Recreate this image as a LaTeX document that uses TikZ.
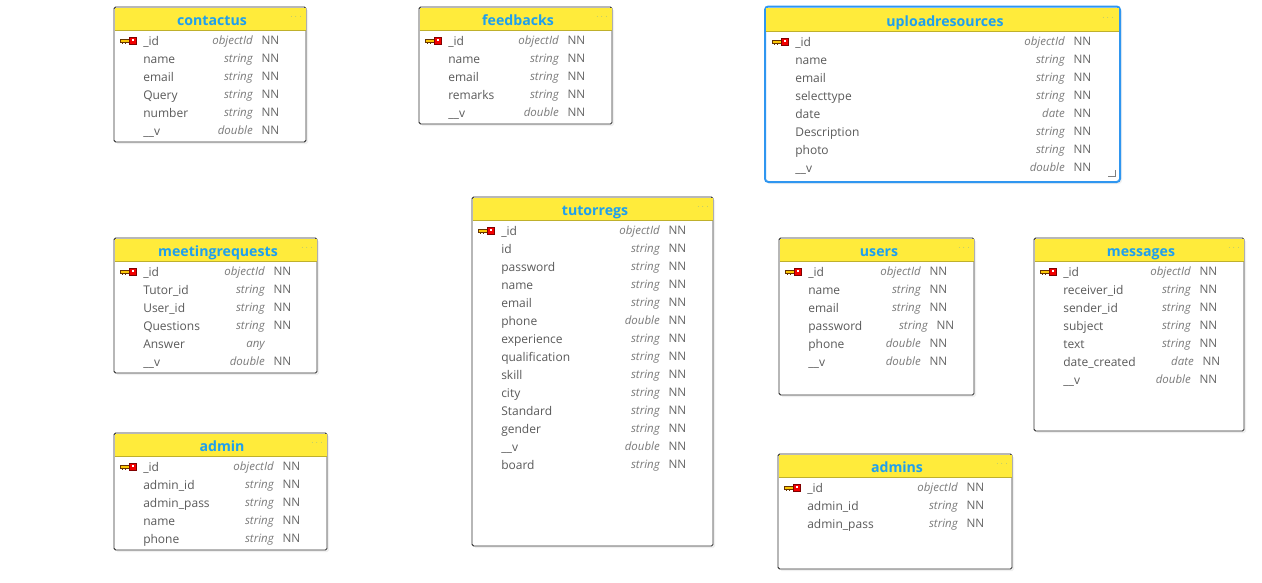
\documentclass[tikz,border=0pt]{standalone}
\usepackage{fontspec}
\setmainfont{Open Sans}
\usetikzlibrary{shadows}
\definecolor{headyellow}{HTML}{FFEB3B}
\definecolor{titleblue}{HTML}{1E9FEF}
\definecolor{fieldgray}{HTML}{5A5A5A}
\definecolor{typegray}{HTML}{7A7A7A}
\definecolor{nngray}{HTML}{666666}
\definecolor{boxgray}{HTML}{333333}
\definecolor{selectblue}{HTML}{2F96F0}
\tikzset{
  tablebox/.style={draw=boxgray,line width=0.7pt,fill=white,rounded corners=1.2pt,
    drop shadow={shadow xshift=1.5pt,shadow yshift=-1.5pt,opacity=0.12}},
  selectbox/.style={draw=selectblue,line width=1.5pt,fill=white,rounded corners=2.5pt,
    drop shadow={shadow xshift=1.5pt,shadow yshift=-1.5pt,opacity=0.12}},
  headbar/.style={fill=headyellow},
  headline/.style={draw=black!25!headyellow,line width=0.6pt},
  tabletitle/.style={inner sep=0pt,xshift=0.75pt,yshift=-0.75pt,text=titleblue,font=\fontsize{10.6}{12}\selectfont\bfseries,text height=8pt,text depth=2pt},
  dotsmark/.style={inner sep=0pt,yshift=-1pt,text=titleblue!60!gray,font=\fontsize{5.5}{7}\selectfont},
  fieldname/.style={anchor=west,inner sep=0pt,yshift=-0.75pt,text=fieldgray,font=\fontsize{9}{11}\selectfont,text height=7pt,text depth=2pt},
  fieldtype/.style={anchor=east,inner sep=0pt,text=typegray,font=\fontsize{8.6}{11}\selectfont\itshape,text height=7pt,text depth=2pt},
  fieldnn/.style={anchor=west,inner sep=0pt,xshift=-0.5pt,text=nngray,font=\fontsize{8.8}{11}\selectfont,text height=7pt,text depth=2pt},
  keyicon/.pic={
    \fill[yellow!60!orange,draw=black!60!orange,line width=0.4pt] (-11,-1.7) rectangle (-2,1);
    \fill[black!60!orange] (-9,1) rectangle (-8,3.2);
    \fill[black!60!orange] (-6.5,1) rectangle (-5.5,3.2);
    \fill[red!95!black,draw=black!50!red,line width=0.4pt] (-2,-3.7) rectangle (5,3.7);
    \fill[white] (0.5,-2.2) rectangle (2.5,-0.2);
  }
}
\begin{document}
\begin{tikzpicture}[x=0.75pt,y=-0.75pt]
  \useasboundingbox (0,0) rectangle (1262,582);
  %contactus
  \draw[tablebox] (114,7) rectangle (306,142);
  \fill[headbar] (114.5,7.5) rectangle (305.5,30);
  \draw[headline] (114.5,30) -- (305.5,30);
  \node[tabletitle] (contactus) at (211,20) {contactus};
  \node[dotsmark] (contactusdots) at (296,16) {$\cdots$};
  \pic at (131,41) {keyicon};
  \node[fieldname] (c1) at (143,41) {\_id}; \node[fieldtype] (c1t) at (253,41) {objectId}; \node[fieldnn] (c1n) at (262,41) {NN};
  \node[fieldname] (c2) at (143,59) {name}; \node[fieldtype] (c2t) at (253,59) {string}; \node[fieldnn] (c2n) at (262,59) {NN};
  \node[fieldname] (c3) at (143,77) {email}; \node[fieldtype] (c3t) at (253,77) {string}; \node[fieldnn] (c3n) at (262,77) {NN};
  \node[fieldname] (c4) at (143,95) {Query}; \node[fieldtype] (c4t) at (253,95) {string}; \node[fieldnn] (c4n) at (262,95) {NN};
  \node[fieldname] (c5) at (143,113) {number}; \node[fieldtype] (c5t) at (253,113) {string}; \node[fieldnn] (c5n) at (262,113) {NN};
  \node[fieldname] (c6) at (143,131) {\_\_v}; \node[fieldtype] (c6t) at (253,131) {double}; \node[fieldnn] (c6n) at (262,131) {NN};

  %feedbacks
  \draw[tablebox] (419,7) rectangle (612,124);
  \fill[headbar] (419.5,7.5) rectangle (611.5,30);
  \draw[headline] (419.5,30) -- (611.5,30);
  \node[tabletitle] (feedbacks) at (517,20) {feedbacks};
  \node[dotsmark] (feedbacksdots) at (602,16) {$\cdots$};
  \pic at (436,41) {keyicon};
  \node[fieldname] (f1) at (448,41) {\_id}; \node[fieldtype] (f1t) at (559,41) {objectId}; \node[fieldnn] (f1n) at (568,41) {NN};
  \node[fieldname] (f2) at (448,59) {name}; \node[fieldtype] (f2t) at (559,59) {string}; \node[fieldnn] (f2n) at (568,59) {NN};
  \node[fieldname] (f3) at (448,77) {email}; \node[fieldtype] (f3t) at (559,77) {string}; \node[fieldnn] (f3n) at (568,77) {NN};
  \node[fieldname] (f4) at (448,95) {remarks}; \node[fieldtype] (f4t) at (559,95) {string}; \node[fieldnn] (f4n) at (568,95) {NN};
  \node[fieldname] (f5) at (448,113) {\_\_v}; \node[fieldtype] (f5t) at (559,113) {double}; \node[fieldnn] (f5n) at (568,113) {NN};

  %uploadresources
  \draw[selectbox] (765,6.5) rectangle (1120,182);
  \fill[headbar] (766,8) rectangle (1119,31);
  \draw[headline] (766,31) -- (1119,31);
  \node[tabletitle] (uploadresources) at (944,21) {uploadresources};
  \node[dotsmark] (uploadresourcesdots) at (1108,17) {$\cdots$};
  \pic at (783,42) {keyicon};
  \node[fieldname] (u1) at (795,42) {\_id}; \node[fieldtype] (u1t) at (1065,42) {objectId}; \node[fieldnn] (u1n) at (1074,42) {NN};
  \node[fieldname] (u2) at (795,60) {name}; \node[fieldtype] (u2t) at (1065,60) {string}; \node[fieldnn] (u2n) at (1074,60) {NN};
  \node[fieldname] (u3) at (795,78) {email}; \node[fieldtype] (u3t) at (1065,78) {string}; \node[fieldnn] (u3n) at (1074,78) {NN};
  \node[fieldname] (u4) at (795,96) {selecttype}; \node[fieldtype] (u4t) at (1065,96) {string}; \node[fieldnn] (u4n) at (1074,96) {NN};
  \node[fieldname] (u5) at (795,114) {date}; \node[fieldtype] (u5t) at (1065,114) {date}; \node[fieldnn] (u5n) at (1074,114) {NN};
  \node[fieldname] (u6) at (795,132) {Description}; \node[fieldtype] (u6t) at (1065,132) {string}; \node[fieldnn] (u6n) at (1074,132) {NN};
  \node[fieldname] (u7) at (795,150) {photo}; \node[fieldtype] (u7t) at (1065,150) {string}; \node[fieldnn] (u7n) at (1074,150) {NN};
  \node[fieldname] (u8) at (795,168) {\_\_v}; \node[fieldtype] (u8t) at (1065,168) {double}; \node[fieldnn] (u8n) at (1074,168) {NN};
  \draw[gray,line width=0.7pt] (1108,176) -- (1115,176) -- (1115,170);

  %meetingrequests
  \draw[tablebox] (114,238) rectangle (317,373);
  \fill[headbar] (114.5,238.5) rectangle (316.5,261);
  \draw[headline] (114.5,261) -- (316.5,261);
  \node[tabletitle] (meetingrequests) at (217,251) {meetingrequests};
  \node[dotsmark] (meetingrequestsdots) at (307,247) {$\cdots$};
  \pic at (131,272) {keyicon};
  \node[fieldname] (m1) at (143,272) {\_id}; \node[fieldtype] (m1t) at (265,272) {objectId}; \node[fieldnn] (m1n) at (274,272) {NN};
  \node[fieldname] (m2) at (143,290) {Tutor\_id}; \node[fieldtype] (m2t) at (265,290) {string}; \node[fieldnn] (m2n) at (274,290) {NN};
  \node[fieldname] (m3) at (143,308) {User\_id}; \node[fieldtype] (m3t) at (265,308) {string}; \node[fieldnn] (m3n) at (274,308) {NN};
  \node[fieldname] (m4) at (143,326) {Questions}; \node[fieldtype] (m4t) at (265,326) {string}; \node[fieldnn] (m4n) at (274,326) {NN};
  \node[fieldname] (m5) at (143,344) {Answer}; \node[fieldtype] (m5t) at (265,344) {any};
  \node[fieldname] (m6) at (143,362) {\_\_v}; \node[fieldtype] (m6t) at (265,362) {double}; \node[fieldnn] (m6n) at (274,362) {NN};

  %admin
  \draw[tablebox] (114,433) rectangle (327,550);
  \fill[headbar] (114.5,433.5) rectangle (326.5,456);
  \draw[headline] (114.5,456) -- (326.5,456);
  \node[tabletitle] (admin) at (221,446) {admin};
  \node[dotsmark] (admindots) at (317,442) {$\cdots$};
  \pic at (131,467) {keyicon};
  \node[fieldname] (a1) at (143,467) {\_id}; \node[fieldtype] (a1t) at (274,467) {objectId}; \node[fieldnn] (a1n) at (283,467) {NN};
  \node[fieldname] (a2) at (143,485) {admin\_id}; \node[fieldtype] (a2t) at (274,485) {string}; \node[fieldnn] (a2n) at (283,485) {NN};
  \node[fieldname] (a3) at (143,503) {admin\_pass}; \node[fieldtype] (a3t) at (274,503) {string}; \node[fieldnn] (a3n) at (283,503) {NN};
  \node[fieldname] (a4) at (143,521) {name}; \node[fieldtype] (a4t) at (274,521) {string}; \node[fieldnn] (a4n) at (283,521) {NN};
  \node[fieldname] (a5) at (143,539) {phone}; \node[fieldtype] (a5t) at (274,539) {string}; \node[fieldnn] (a5n) at (283,539) {NN};

  %tutorregs
  \draw[tablebox] (472,197) rectangle (713,546);
  \fill[headbar] (472.5,197.5) rectangle (712.5,220);
  \draw[headline] (472.5,220) -- (712.5,220);
  \node[tabletitle] (tutorregs) at (594,210) {tutorregs};
  \node[dotsmark] (tutorregsdots) at (703,206) {$\cdots$};
  \pic at (489,231) {keyicon};
  \node[fieldname] (t1) at (501,231) {\_id}; \node[fieldtype] (t1t) at (660,231) {objectId}; \node[fieldnn] (t1n) at (669,231) {NN};
  \node[fieldname] (t2) at (501,249) {id}; \node[fieldtype] (t2t) at (660,249) {string}; \node[fieldnn] (t2n) at (669,249) {NN};
  \node[fieldname] (t3) at (501,267) {password}; \node[fieldtype] (t3t) at (660,267) {string}; \node[fieldnn] (t3n) at (669,267) {NN};
  \node[fieldname] (t4) at (501,285) {name}; \node[fieldtype] (t4t) at (660,285) {string}; \node[fieldnn] (t4n) at (669,285) {NN};
  \node[fieldname] (t5) at (501,303) {email}; \node[fieldtype] (t5t) at (660,303) {string}; \node[fieldnn] (t5n) at (669,303) {NN};
  \node[fieldname] (t6) at (501,321) {phone}; \node[fieldtype] (t6t) at (660,321) {double}; \node[fieldnn] (t6n) at (669,321) {NN};
  \node[fieldname] (t7) at (501,339) {experience}; \node[fieldtype] (t7t) at (660,339) {string}; \node[fieldnn] (t7n) at (669,339) {NN};
  \node[fieldname] (t8) at (501,357) {qualification}; \node[fieldtype] (t8t) at (660,357) {string}; \node[fieldnn] (t8n) at (669,357) {NN};
  \node[fieldname] (t9) at (501,375) {skill}; \node[fieldtype] (t9t) at (660,375) {string}; \node[fieldnn] (t9n) at (669,375) {NN};
  \node[fieldname] (t10) at (501,393) {city}; \node[fieldtype] (t10t) at (660,393) {string}; \node[fieldnn] (t10n) at (669,393) {NN};
  \node[fieldname] (t11) at (501,411) {Standard}; \node[fieldtype] (t11t) at (660,411) {string}; \node[fieldnn] (t11n) at (669,411) {NN};
  \node[fieldname] (t12) at (501,429) {gender}; \node[fieldtype] (t12t) at (660,429) {string}; \node[fieldnn] (t12n) at (669,429) {NN};
  \node[fieldname] (t13) at (501,447) {\_\_v}; \node[fieldtype] (t13t) at (660,447) {double}; \node[fieldnn] (t13n) at (669,447) {NN};
  \node[fieldname] (t14) at (501,465) {board}; \node[fieldtype] (t14t) at (660,465) {string}; \node[fieldnn] (t14n) at (669,465) {NN};

  %users
  \draw[tablebox] (779,238) rectangle (974,395);
  \fill[headbar] (779.5,238.5) rectangle (973.5,261);
  \draw[headline] (779.5,261) -- (973.5,261);
  \node[tabletitle] (users) at (878,251) {users};
  \node[dotsmark] (usersdots) at (964,247) {$\cdots$};
  \pic at (796,272) {keyicon};
  \node[fieldname] (s1) at (808,272) {\_id}; \node[fieldtype] (s1t) at (921,272) {objectId}; \node[fieldnn] (s1n) at (930,272) {NN};
  \node[fieldname] (s2) at (808,290) {name}; \node[fieldtype] (s2t) at (921,290) {string}; \node[fieldnn] (s2n) at (930,290) {NN};
  \node[fieldname] (s3) at (808,308) {email}; \node[fieldtype] (s3t) at (921,308) {string}; \node[fieldnn] (s3n) at (930,308) {NN};
  \node[fieldname] (s4) at (808,326) {password}; \node[fieldtype] (s4t) at (928,326) {string}; \node[fieldnn] (s4n) at (937,326) {NN};
  \node[fieldname] (s5) at (808,344) {phone}; \node[fieldtype] (s5t) at (921,344) {double}; \node[fieldnn] (s5n) at (930,344) {NN};
  \node[fieldname] (s6) at (808,362) {\_\_v}; \node[fieldtype] (s6t) at (921,362) {double}; \node[fieldnn] (s6n) at (930,362) {NN};

  %messages
  \draw[tablebox] (1034,238) rectangle (1244,431);
  \fill[headbar] (1034.5,238.5) rectangle (1243.5,261);
  \draw[headline] (1034.5,261) -- (1243.5,261);
  \node[tabletitle] (messages) at (1140,251) {messages};
  \node[dotsmark] (messagesdots) at (1234,247) {$\cdots$};
  \pic at (1051,272) {keyicon};
  \node[fieldname] (g1) at (1063,272) {\_id}; \node[fieldtype] (g1t) at (1191,272) {objectId}; \node[fieldnn] (g1n) at (1200,272) {NN};
  \node[fieldname] (g2) at (1063,290) {receiver\_id}; \node[fieldtype] (g2t) at (1191,290) {string}; \node[fieldnn] (g2n) at (1200,290) {NN};
  \node[fieldname] (g3) at (1063,308) {sender\_id}; \node[fieldtype] (g3t) at (1191,308) {string}; \node[fieldnn] (g3n) at (1200,308) {NN};
  \node[fieldname] (g4) at (1063,326) {subject}; \node[fieldtype] (g4t) at (1191,326) {string}; \node[fieldnn] (g4n) at (1200,326) {NN};
  \node[fieldname] (g5) at (1063,344) {text}; \node[fieldtype] (g5t) at (1191,344) {string}; \node[fieldnn] (g5n) at (1200,344) {NN};
  \node[fieldname] (g6) at (1063,362) {date\_created}; \node[fieldtype] (g6t) at (1194,362) {date}; \node[fieldnn] (g6n) at (1203,362) {NN};
  \node[fieldname] (g7) at (1063,380) {\_\_v}; \node[fieldtype] (g7t) at (1191,380) {double}; \node[fieldnn] (g7n) at (1200,380) {NN};

  %admins
  \draw[tablebox] (778,454) rectangle (1012,569);
  \fill[headbar] (778.5,454.5) rectangle (1011.5,477);
  \draw[headline] (778.5,477) -- (1011.5,477);
  \node[tabletitle] (admins) at (896,467) {admins};
  \node[dotsmark] (adminsdots) at (1002,463) {$\cdots$};
  \pic at (795,488) {keyicon};
  \node[fieldname] (d1) at (807,488) {\_id}; \node[fieldtype] (d1t) at (958,488) {objectId}; \node[fieldnn] (d1n) at (967,488) {NN};
  \node[fieldname] (d2) at (807,506) {admin\_id}; \node[fieldtype] (d2t) at (958,506) {string}; \node[fieldnn] (d2n) at (967,506) {NN};
  \node[fieldname] (d3) at (807,524) {admin\_pass}; \node[fieldtype] (d3t) at (958,524) {string}; \node[fieldnn] (d3n) at (967,524) {NN};
\end{tikzpicture}
\end{document}
